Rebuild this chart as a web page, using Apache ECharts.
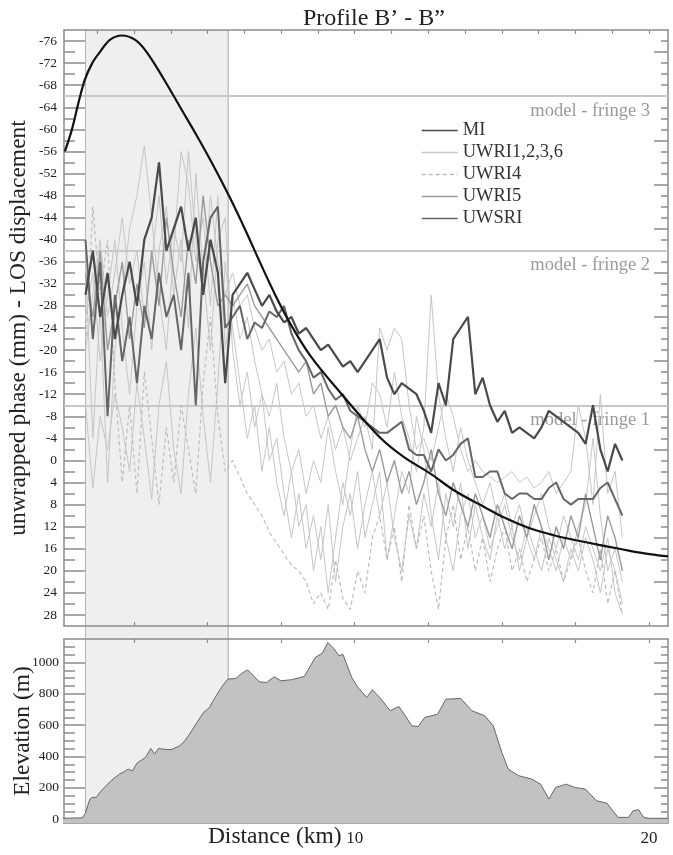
<!DOCTYPE html>
<html><head><meta charset="utf-8">
<script src="https://cdn.jsdelivr.net/npm/echarts@6/dist/echarts.min.js"></script>
<style>html,body{margin:0;padding:0;background:#fff}#c{width:673px;height:855px}</style>
</head><body><div id="c"></div>
<script>
// ---- data ----
const km = [0.85,1.1,1.35,1.6,1.85,2.1,2.35,2.6,2.85,3.1,
3.35,3.6,3.85,4.1,4.35,4.6,4.85,5.1,5.35,5.6,
5.85,6.1,6.35,6.6,6.85,7.1,7.35,7.6,7.85,8.1,
8.35,8.6,8.85,9.1,9.35,9.6,9.85,10.1,10.35,10.6,
10.85,11.1,11.35,11.6,11.85,12.1,12.35,12.6,12.85,13.1,
13.35,13.6,13.85,14.1,14.35,14.6,14.85,15.1,15.35,15.6,
15.85,16.1,16.35,16.6,16.85,17.1,17.35,17.6,17.85,18.1,
18.35,18.6,18.85,19.1];
const MI = [-30,-38,-26,-34,-22,-30,-36,-28,-40,-44,
-54,-38,-42,-46,-38,-44,-30,-40,-34,-14,
-30,-32,-34,-31,-28,-30,-27,-25,-26,-23,
-24,-22,-20,-21,-19,-17,-18,-16,-18,-20,
-22,-15,-12,-14,-13,-12,-9,-5,-14,-10,
-22,-24,-26,-12,-15,-10,-7,-9,-5,-6,
-5,-4,-6,-9,-8,-7,-6,-5,-3,-10,
-2,2,-3,0];
const UWRI1 = [-36,-4,-28,4,-20,-30,-42,-48,-57,-44,
-30,-20,-38,-56,-50,-36,-44,-28,-48,-20,
-30,-22,-26,-18,-12,-8,-14,-4,2,-2,
6,0,4,-6,2,8,-2,-10,-6,-14,
-12,-6,-16,-8,-4,2,-6,-30,-12,-4,
2,-6,0,4,8,4,10,6,12,8,
14,10,6,12,16,10,14,18,12,16,
20,14,24,28];
const UWRI2 = [-10,5,-8,-2,-12,-6,2,-14,-4,7,
-10,-18,-2,6,-12,-24,-8,4,-14,-36,
-24,-14,-4,-10,2,-6,4,10,2,12,
8,20,12,24,14,4,10,2,14,8,
2,18,10,2,6,-8,-2,10,18,6,
12,4,16,8,14,18,10,16,12,20,
14,18,12,16,20,14,18,12,8,-4,
10,20,16,22];
const UWRI3 = [-26,-34,-18,-30,-40,-24,-12,-28,-36,-20,
-38,-46,-30,-40,-24,-52,-34,-20,-40,-44,
-20,-10,-16,-6,-12,0,-4,6,14,6,
16,10,18,8,22,12,6,16,8,2,
10,4,14,20,10,16,6,12,4,14,
20,10,6,14,10,16,12,8,14,18,
12,16,20,14,18,22,16,20,14,18,
24,16,20,26];
const UWRI6 = [-20,-30,-40,-26,-34,-44,-32,-38,-26,-36,
-48,-32,-42,-36,-56,-40,-30,-48,-36,-30,
-34,-28,-30,-24,-20,-22,-16,-18,-12,-14,
-8,-10,-4,-8,-2,-6,0,-4,-8,-2,
-24,-20,-24,-22,-10,-2,-4,0,-6,-12,
-8,-2,2,0,2,3,4,3,2,4,
3,5,4,2,6,4,2,-10,-4,8,
-12,6,2,14];
const UWRI4 = [-20,-46,-30,-40,-14,4,-10,6,-16,-4,
8,-6,4,-10,-2,6,-14,-26,-8,2,
0,3,6,8,10,13,15,17,19,20,
22,26,24,27,18,25,27,20,24,14,
10,18,12,22,8,16,10,20,27,14,
8,18,12,20,14,22,16,12,20,16,
22,18,14,20,16,22,18,14,20,24,
16,26,20,28];
const UWRI5 = [-34,-26,-38,-20,-28,-36,-22,-32,-24,-38,
-28,-44,-34,-26,-40,-32,-48,-36,-28,-30,
-28,-30,-32,-28,-26,-24,-22,-20,-18,-16,
-18,-12,-14,-8,-10,-6,-4,-8,-2,2,
-2,4,0,6,2,8,4,-2,6,10,
4,8,12,6,10,14,8,12,16,10,
14,8,12,18,12,16,10,14,6,12,
18,10,14,20];
const UWSRI = [-40,-22,-36,-8,-30,-18,-26,-14,-28,-22,
-34,-26,-30,-20,-34,-10,-36,-44,-46,-24,
-26,-28,-22,-25,-24,-27,-26,-28,-23,-20,
-18,-15,-16,-13,-11,-12,-9,-8,-7,-6,
-5,-5,-6,-7,-2,-1,-1,2,-2,0,
-1,-3,-4,3,3,2,2,6,7,6,
6,7,7,5,4,7,8,7,7,7,
5,4,7,10];
const modelKm = [0.15,0.39,0.62,0.83,1.08,1.34,1.68,2.09,2.54,2.93,3.49,4.07,4.64,5.19,5.77,6.28,6.79,7.3,7.81,8.49,9.51,10.87,11.7,12.55,13.4,14.25,15.1,15.95,16.8,17.65,18.3,19.0,19.8,20.65];
const model = [-56,-60,-65,-69,-72,-74,-76.2,-77,-76.2,-74,-69.3,-64,-58.8,-53.5,-47.5,-41.8,-35.8,-30,-24.8,-19,-12.3,-4.1,-0.5,2.3,5.5,8,10.4,12.3,13.6,14.6,15.3,16,16.8,17.4];
const elevKm = [0.0,0.75,0.85,1.0,1.1,1.21,1.3,1.43,1.72,2.0,2.15,2.3,2.45,2.6,2.89,3.07,3.2,3.33,3.55,3.76,4.05,4.2,4.35,4.64,4.86,5.07,5.22,5.51,5.69,5.96,6.17,6.36,6.54,6.76,7.0,7.27,7.49,7.85,8.29,8.66,8.9,9.09,9.29,9.46,9.6,9.9,10.11,10.41,10.6,10.85,11.21,11.5,11.72,11.94,12.16,12.38,12.82,13.1,13.61,13.98,14.42,14.71,15.0,15.22,15.58,16.02,16.32,16.6,16.83,17.19,17.48,17.85,18.22,18.57,18.95,19.31,19.46,19.65,19.82,20.0,20.65];
const elev = [5,8,40,128,140,138,160,190,245,287,300,319,308,357,394,451,415,451,445,443,468,494,532,617,681,713,766,851,894,898,932,953,919,877,872,909,883,890,911,1032,1060,1128,1090,1043,1053,904,841,777,826,777,692,719,660,596,591,649,670,766,770,692,660,596,426,319,277,255,223,128,202,223,202,191,117,102,11,11,53,60,11,5,5];
const fringeVals = [-66, -38, -10];
const fringeNames = ['model - fringe 3', 'model - fringe 2', 'model - fringe 1'];
const shadeRange = [0.85, 5.7];
const phaseLabels = [-76,-72,-68,-64,-60,-56,-52,-48,-44,-40,-36,-32,-28,-24,-20,-16,-12,-8,-4,0,4,8,12,16,20,24,28];
const phaseMinor = [-74,-70,-66,-62,-58,-54,-50,-46,-42,-38,-34,-30,-26,-22,-18,-14,-10,-6,-2,2,6,10,14,18,22,26];
const phaseRightLong = [-74,-66,-58,-50,-42,-34,-26,-18,-10,-2,6,14,22];
const phaseRightShort = [-76,-72,-70,-68,-64,-62,-60,-56,-54,-52,-48,-46,-44,-40,-38,-36,-32,-30,-28,-24,-22,-20,-16,-14,-12,-8,-6,-4,0,2,4,8,10,12,16,18,20,24,26,28];
const elevLabels = [0,200,400,600,800,1000];
const elevMinor = [50,100,150,250,300,350,450,500,550,650,700,750,850,900,950,1050,1100];
const xTicks = [2.5,5,7.5,10,12.5,15,17.5,20];
const xTicksFine = [1.25,2.5,3.75,5,6.25,7.5,8.75,10,11.25,12.5,13.75,15,16.25,17.5,18.75,20];
const xLabels = [10, 20];

// ---- chart ----
const FF = "'Liberation Serif','DejaVu Serif',serif";
const AX = '#8c8c8c';
const xMin = 0.12, xMax = 20.65;
const pMin = -78, pMax = 30, eMin = -25, eMax = 1150;
const pairs = (xs, ys) => xs.map((x, i) => [x, ys[i]]);
const plain = v => String(v);

const chart = echarts.init(document.getElementById('c'), null, {renderer: 'canvas'});

function xAx(grid, pos, ticks, label) {
  return {type: 'value', gridIndex: grid, position: pos, min: xMin, max: xMax,
    splitLine: {show: false},
    axisLine: {show: true, onZero: false, lineStyle: {color: AX, width: 1.5}},
    axisTick: {show: true, inside: true, length: 4, customValues: ticks, lineStyle: {color: AX, width: 1.2}},
    axisLabel: label ? {show: true, customValues: xLabels, formatter: plain, fontFamily: FF, fontSize: 17, color: '#222', margin: 7} : {show: false}};
}
function yAx(grid, pos, inv, mn, mx, ticks, len, line, extra) {
  return Object.assign({type: 'value', gridIndex: grid, position: pos, inverse: inv, min: mn, max: mx,
    splitLine: {show: false},
    axisLine: {show: line, onZero: false, lineStyle: {color: AX, width: 1.5}},
    axisTick: {show: true, inside: true, length: len, customValues: ticks, lineStyle: {color: AX, width: 1.5}},
    axisLabel: {show: false}}, extra || {});
}
function ln(name, data, color, width, type) {
  return {type: 'line', name: name, data: pairs(km, data), xAxisIndex: 0, yAxisIndex: 0,
    symbol: 'none', showSymbol: false, silent: true, animation: false, z: 3,
    lineStyle: {color: color, width: width, type: type || 'solid'}, itemStyle: {color: color}};
}

const option = {
  backgroundColor: '#fff',
  animation: false,
  title: {text: 'Profile B\u2019 - B\u201D', left: 369, textAlign: 'center', top: 2,
    textStyle: {fontFamily: FF, fontSize: 24, fontWeight: 'normal', color: '#222'}},
  legend: {data: ['MI', 'UWRI1,2,3,6', 'UWRI4', 'UWRI5', 'UWSRI'], orient: 'vertical',
    left: 416, top: 116, itemWidth: 36, itemHeight: 14, itemGap: 3, selectedMode: false,
    itemStyle: {opacity: 0}, lineStyle: {width: 1.4},
    textStyle: {fontFamily: FF, fontSize: 18.5, color: '#333', lineHeight: 18}},
  grid: [
    {left: 64, right: 5, top: 30, height: 596, containLabel: false, outerBoundsMode: 'none'},
    {left: 64, right: 5, top: 639, height: 184, containLabel: false, outerBoundsMode: 'none'}
  ],
  xAxis: [
    xAx(0, 'bottom', xTicks, false),
    xAx(0, 'top', xTicksFine, false),
    xAx(1, 'bottom', xTicks, true),
    xAx(1, 'top', xTicks, false)
  ],
  yAxis: [
    yAx(0, 'left', true, pMin, pMax, phaseLabels, 21, true, {
      name: 'unwrapped phase (mm) - LOS displacement', nameLocation: 'middle', nameGap: 33, nameMoveOverlap: false,
      nameTextStyle: {fontFamily: FF, fontSize: 23.5, color: '#222'},
      axisLabel: {show: true, customValues: phaseLabels, formatter: plain, fontFamily: FF, fontSize: 13.5, color: '#222', margin: 7}}),
    yAx(0, 'left', true, pMin, pMax, phaseMinor, 11, false),
    yAx(0, 'right', true, pMin, pMax, phaseRightLong, 14, true),
    yAx(0, 'right', true, pMin, pMax, phaseRightShort, 7, false),
    yAx(1, 'left', false, eMin, eMax, elevLabels, 21, true, {
      name: 'Elevation (m)', nameLocation: 'middle', nameGap: 29, nameMoveOverlap: false,
      nameTextStyle: {fontFamily: FF, fontSize: 23.5, color: '#222'},
      axisLabel: {show: true, customValues: elevLabels, formatter: plain, fontFamily: FF, fontSize: 13.5, color: '#222', margin: 5}}),
    yAx(1, 'left', false, eMin, eMax, elevMinor, 11, false),
    yAx(1, 'right', false, eMin, eMax, elevLabels, 14, true),
    yAx(1, 'right', false, eMin, eMax, elevMinor, 7, false)
  ],
  series: [
    ln('UWRI1,2,3,6', UWRI1, '#c6c6c6', 1),
    ln('UWRI1,2,3,6', UWRI2, '#c6c6c6', 1),
    ln('UWRI1,2,3,6', UWRI3, '#c6c6c6', 1),
    ln('UWRI1,2,3,6', UWRI6, '#c6c6c6', 1),
    ln('UWRI4', UWRI4, '#bdbdbd', 1.2, [4, 3]),
    ln('UWRI5', UWRI5, '#9a9a9a', 1.4),
    ln('UWSRI', UWSRI, '#666666', 2),
    ln('MI', MI, '#4a4a4a', 2.2),
    {type: 'line', name: 'model', data: pairs(modelKm, model), xAxisIndex: 0, yAxisIndex: 0,
      symbol: 'none', smooth: 0.35, silent: true, animation: false, z: 5,
      lineStyle: {color: '#111', width: 2.2}, itemStyle: {color: '#111'},
      markLine: {silent: true, symbol: 'none', animation: false, z: 2,
        lineStyle: {color: '#c8c8c8', width: 2, type: 'solid'},
        label: {show: true, position: 'insideEndBottom', formatter: '{b}', color: '#9a9a9a',
          fontFamily: FF, fontSize: 18.5, distance: [18, 5]},
        data: fringeVals.map((v, i) => ({yAxis: v, name: fringeNames[i]}))}},
    {type: 'line', name: 'elevation', data: pairs(elevKm, elev), xAxisIndex: 2, yAxisIndex: 4,
      symbol: 'none', silent: true, animation: false, z: 3,
      lineStyle: {color: '#666', width: 1}, itemStyle: {color: '#666'},
      areaStyle: {color: '#c2c2c2', opacity: 1, origin: 'start'}}
  ]
};
chart.setOption(option);

// shaded band across both panels, positioned through the axes' scales
const xa = chart.convertToPixel({xAxisIndex: 0}, shadeRange[0]);
const xb = chart.convertToPixel({xAxisIndex: 0}, shadeRange[1]);
const yTop = chart.convertToPixel({yAxisIndex: 0}, pMin);
const yBot = chart.convertToPixel({yAxisIndex: 4}, eMin);
const xLabelPos = chart.convertToPixel({xAxisIndex: 2}, 10);
chart.setOption({
  graphic: [
    {type: 'rect', z: -1, silent: true, shape: {x: xa, y: yTop, width: xb - xa, height: yBot - yTop},
      style: {fill: '#efefef'}},
    {type: 'line', z: -1, silent: true, shape: {x1: xa, y1: yTop, x2: xa, y2: yBot}, style: {stroke: '#b4b4b4', lineWidth: 1}},
    {type: 'line', z: -1, silent: true, shape: {x1: xb, y1: yTop, x2: xb, y2: yBot}, style: {stroke: '#a8a8a8', lineWidth: 1}},
    {type: 'text', silent: true, x: xLabelPos - 13, y: yBot + 14,
      style: {text: 'Distance (km)', fontFamily: FF, fontSize: 23.5, fill: '#222', align: 'right', verticalAlign: 'middle'}}
  ]
});
</script></body></html>
